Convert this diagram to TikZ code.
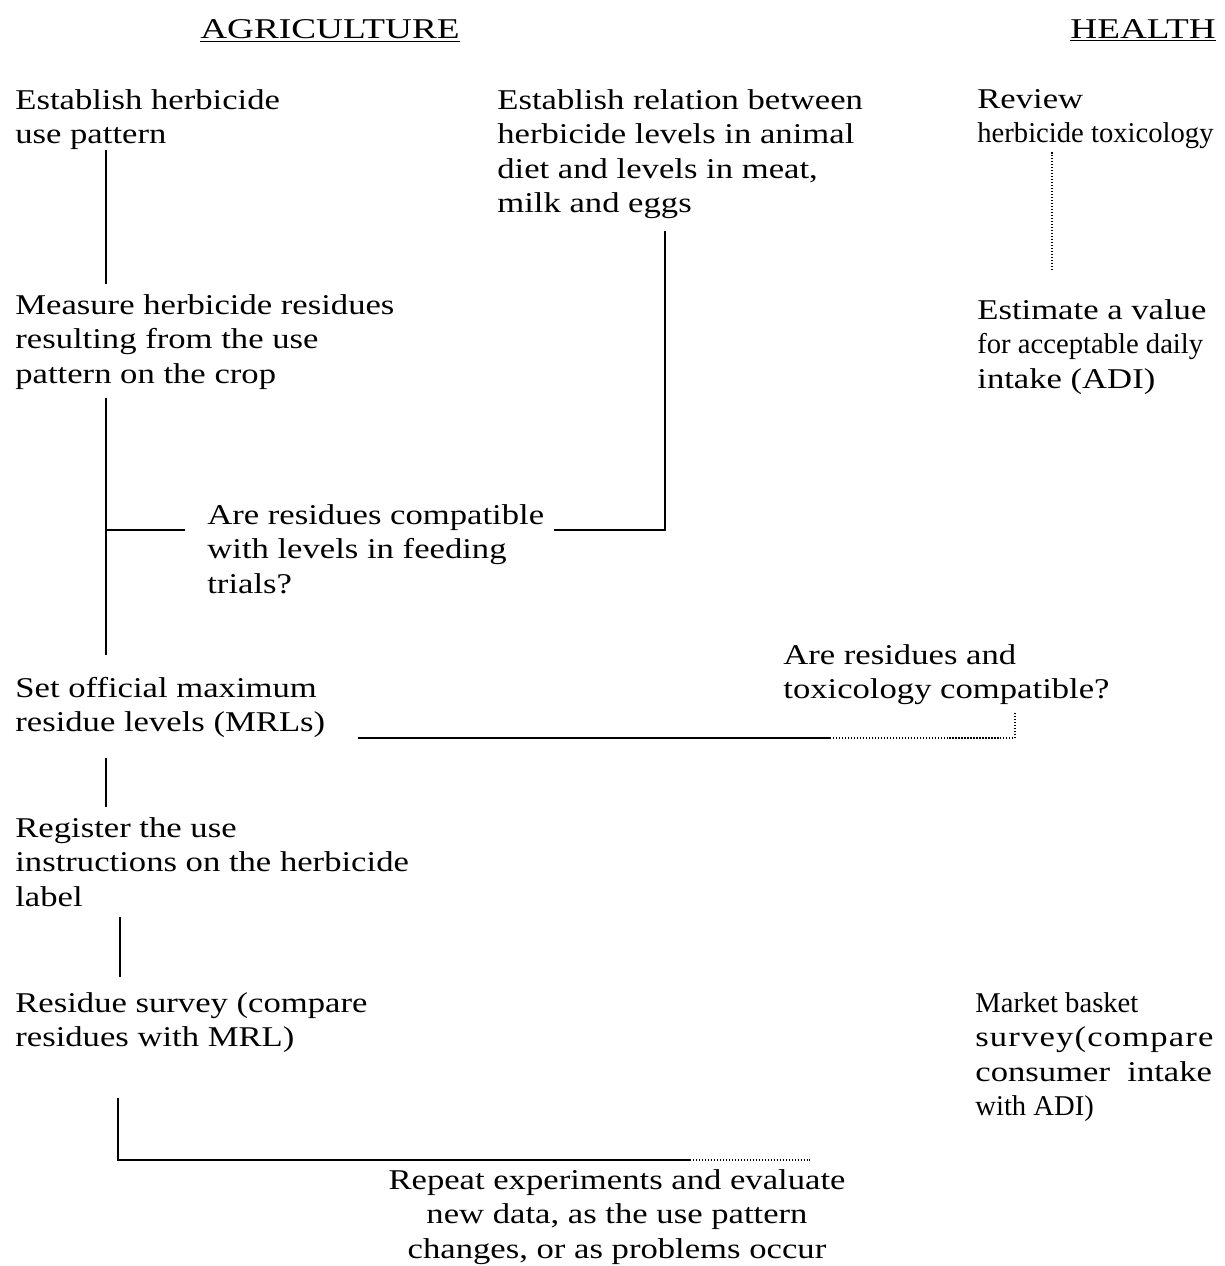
\documentclass[tikz,border=0pt]{standalone}
\usepackage{fontspec}
\setmainfont{Liberation Serif}[FakeStretch=1.21]
\newfontfamily\narrowfont{Liberation Serif}
\newfontfamily\headfont{Liberation Serif}[FakeStretch=1.3]
\newfontfamily\spacedfont{Liberation Serif}[FakeStretch=1.21,LetterSpace=4]
\begin{document}
\begin{tikzpicture}[x=0.02cm,y=-0.02cm]
    \tikzstyle{every node}=[inner sep=0pt,anchor=north west,align=left,font=\fontsize{16.3}{19.6}\selectfont]
    \tikzstyle{link}=[line width=0.9pt]
    \tikzstyle{faint}=[line width=0.7pt,densely dotted]
    \useasboundingbox (0,0) rectangle (1224,1266);
    % headings
    \node (agri) at (200,19) {\headfont\underline{AGRICULTURE}};
    \node (health) at (1070,19) {\headfont\underline{HEALTH}};
    % agriculture column
    \node (usepat) at (15,89) {Establish herbicide\\use pattern};
    \node (measure) at (15,294) {Measure herbicide residues\\resulting from the use\\pattern on the crop};
    \node (mrl) at (15,677) {Set official maximum\\residue levels (MRLs)};
    \node (register) at (15,817) {Register the use\\instructions on the herbicide\\label};
    \node (survey) at (15,992) {Residue survey (compare\\residues with MRL)};
    % middle
    \node (relation) at (497,89) {Establish relation between\\herbicide levels in animal\\diet and levels in meat,\\milk and eggs};
    \node (feedq) at (207,504) {Are residues compatible\\with levels in feeding\\trials?};
    \node (toxq) at (783,644) {Are residues and\\toxicology compatible?};
    \node[anchor=north,align=center] (repeat) at (617,1169) {Repeat experiments and evaluate\\new data, as the use pattern\\changes, or as problems occur};
    % health column
    \node (review) at (977,89) {Review\\{\narrowfont herbicide toxicology}};
    \node (adi) at (977,299) {Estimate a value\\{\narrowfont for acceptable daily}\\intake (ADI)};
    \node (basket) at (975,992) {{\narrowfont Market basket}\\{\spacedfont survey(compare}\\consumer~~intake\\{\narrowfont with ADI)}};
    % connectors
    \coordinate (c1) at (106,0);
    \coordinate (c4) at (665,0);
    \coordinate (c5) at (1015,0);
    \coordinate (c6) at (1052,0);
    \coordinate (c8) at (120,0);
    \coordinate (c9) at (118,0);
    \coordinate (j3) at (0,530);
    \coordinate (j5) at (0,738);
    \coordinate (j9) at (0,1160);
    \coordinate (j5m) at (830,738);
    \coordinate (j9m) at (690,1160);
    \coordinate (j9e) at (810,1160);
    \draw[link,shorten >=0.2cm] (usepat.south -| c1) -- (measure.north -| c1);
    \draw[link,shorten <=0.16cm,shorten >=0.44cm] (measure.south -| c1) -- (mrl.north -| c1);
    \draw[link,shorten >=0.44cm] (c1 |- j3) -- (feedq.west |- j3);
    \draw[link,shorten <=0.2cm,shorten >=0.24cm] (feedq.east |- j3) -| (relation.south -| c4);
    \draw[link,shorten <=0.64cm] (mrl.east |- j5) -- (j5m);
    \draw[faint] (j5m) -- (c5 |- j5);
    \draw[faint,shorten >=0.14cm] (c5 |- j5) -- (c5 |- toxq.south);
    \draw[faint,shorten <=0.06cm,shorten >=0.6cm] (review.south -| c6) -- (adi.north -| c6);
    \draw[link,shorten <=0.4cm,shorten >=0.2cm] (mrl.south -| c1) -- (register.north -| c1);
    \draw[link,shorten <=0.2cm,shorten >=0.3cm] (register.south -| c8) -- (survey.north -| c8);
    \draw[link,shorten <=0.9cm] (survey.south -| c9) |- (j9m);
    \draw[faint] (j9m) -- (j9e);
\end{tikzpicture}
\end{document}
